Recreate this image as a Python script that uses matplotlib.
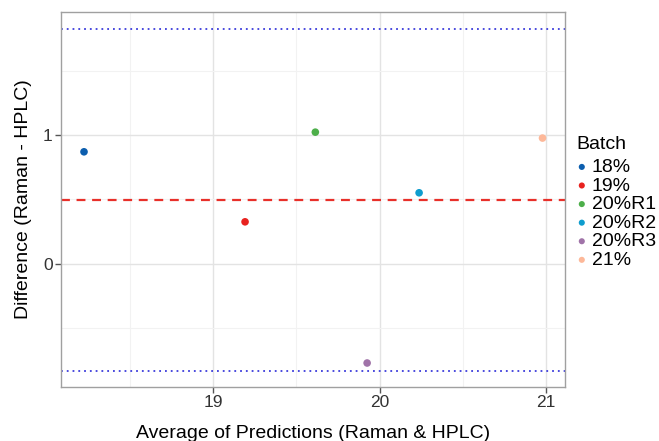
import numpy as np
import matplotlib.pyplot as plt
from matplotlib.ticker import MultipleLocator

plt.rcParams['font.family'] = ['Liberation Sans', 'DejaVu Sans']

batches = ["18%", "19%", "20%R1", "20%R2", "20%R3", "21%"]
avg_pred = [18.225, 19.192, 19.614, 20.237, 19.925, 20.978]
diff = [0.870, 0.325, 1.023, 0.551, -0.774, 0.977]
colors = ["#0C5EAE", "#E8221F", "#4DAF4A", "#0E9DCE", "#A073A8", "#FDB899"]

mean_diff = 0.494
upper_loa = 1.825
lower_loa = -0.835

fig = plt.figure(figsize=(6.59, 4.41), dpi=100)
ax = fig.add_axes([0.0926, 0.1224, 0.765, 0.850])

ax.set_xlim(18.087, 21.114)
ax.set_ylim(-0.961, 1.957)

ax.xaxis.set_major_locator(MultipleLocator(1))
ax.xaxis.set_minor_locator(MultipleLocator(0.5))
ax.yaxis.set_major_locator(MultipleLocator(1))
ax.yaxis.set_minor_locator(MultipleLocator(0.5))
ax.grid(which='major', color='#E3E3E3', linewidth=1.0)
ax.grid(which='minor', color='#F2F2F2', linewidth=0.8)
ax.set_axisbelow(True)

for s in ax.spines.values():
    s.set_color('#A0A0A0')
    s.set_linewidth(1.0)

ax.tick_params(which='major', length=4, width=1, color='#555555',
               labelsize=12.5, labelcolor='#333333', pad=2)
ax.tick_params(which='minor', length=0)

ax.axhline(upper_loa, color='#3B3BDB', linestyle=(0, (1, 2.2)), linewidth=1.3)
ax.axhline(lower_loa, color='#3B3BDB', linestyle=(0, (1, 2.2)), linewidth=1.3)
ax.axhline(mean_diff, color='#E8302A', linestyle=(0, (4, 3)), linewidth=1.6)

for b, x, y, c in zip(batches, avg_pred, diff, colors):
    ax.scatter(x, y, s=30, color=c, label=b, zorder=3, edgecolors='none')

ax.set_xlabel("Average of Predictions (Raman & HPLC)", fontsize=14, labelpad=10.5)
ax.set_ylabel("Difference (Raman - HPLC)", fontsize=14, labelpad=8)

leg = ax.legend(title="Batch", loc='upper left', bbox_to_anchor=(0.874, 0.691),
                bbox_transform=fig.transFigure, frameon=False, fontsize=14,
                title_fontsize=14, handletextpad=0.2, labelspacing=0.05,
                borderpad=0, borderaxespad=0, handlelength=0.6, markerscale=0.8)
leg._legend_box.align = "left"
leg._legend_box.sep = 3.7

fig.savefig("out.png", dpi=100)
